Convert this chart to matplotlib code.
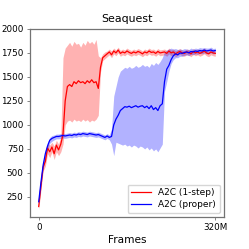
import numpy as np
import matplotlib
matplotlib.use("Agg")
import matplotlib.pyplot as plt

# frames in millions, one point every 4M
frames = np.arange(0, 321, 4)

red_mean = [150, 360, 560, 620, 760, 720, 770, 700, 790, 740, 800, 900, 1250, 1400,
            1420, 1400, 1450, 1430, 1460, 1440, 1450, 1430, 1460, 1440, 1470, 1440,
            1450, 1380, 1600, 1700, 1720, 1740, 1760, 1730, 1770, 1750, 1780, 1745,
            1760, 1750, 1770, 1755, 1745, 1760, 1750, 1765, 1755, 1740, 1760, 1750,
            1770, 1755, 1760, 1745, 1765, 1750, 1755, 1760, 1745, 1770, 1750, 1760,
            1740, 1755, 1765, 1750, 1745, 1760, 1755, 1740, 1765, 1750, 1760, 1745,
            1755, 1770, 1750, 1740, 1760, 1750, 1745]
red_low = [120, 320, 520, 570, 700, 660, 720, 640, 720, 680, 720, 800, 1000, 1040,
           1050, 1030, 1060, 1040, 1050, 1035, 1060, 1040, 1055, 1030, 1050, 1040,
           1060, 1100, 1550, 1670, 1690, 1710, 1730, 1700, 1740, 1720, 1750, 1715,
           1730, 1720, 1740, 1725, 1715, 1730, 1720, 1735, 1725, 1710, 1730, 1720,
           1740, 1725, 1730, 1715, 1735, 1720, 1725, 1730, 1715, 1740, 1720, 1730,
           1710, 1725, 1735, 1720, 1715, 1730, 1725, 1710, 1735, 1720, 1730, 1715,
           1725, 1740, 1720, 1710, 1730, 1720, 1715]
red_high = [180, 400, 600, 680, 800, 790, 820, 780, 840, 800, 880, 1700, 1800, 1830,
            1860, 1820, 1870, 1840, 1850, 1810, 1860, 1830, 1880, 1850, 1870, 1840,
            1890, 1720, 1700, 1740, 1760, 1770, 1790, 1770, 1800, 1780, 1810, 1775,
            1790, 1780, 1800, 1785, 1775, 1790, 1780, 1795, 1785, 1770, 1790, 1780,
            1800, 1785, 1790, 1775, 1795, 1780, 1785, 1790, 1775, 1800, 1780, 1790,
            1770, 1785, 1795, 1780, 1775, 1790, 1785, 1770, 1795, 1780, 1790, 1775,
            1785, 1800, 1780, 1770, 1790, 1780, 1775]

blue_mean = [200, 400, 580, 700, 780, 840, 860, 870, 880, 880, 885, 890, 885, 890,
             895, 890, 900, 895, 905, 900, 910, 905, 900, 910, 905, 900, 895, 900,
             890, 880, 870, 885, 870, 880, 1000, 1060, 1100, 1150, 1170, 1190, 1185,
             1195, 1180, 1190, 1200, 1185, 1195, 1200, 1180, 1195, 1170, 1200, 1160,
             1180, 1150, 1200, 1220, 1450, 1580, 1620, 1680, 1720, 1740, 1730, 1750,
             1745, 1755, 1760, 1750, 1765, 1760, 1770, 1765, 1775, 1770, 1780, 1770,
             1775, 1780, 1770, 1775]
blue_low = [160, 360, 540, 660, 740, 810, 830, 845, 855, 855, 860, 865, 860, 865,
            870, 865, 875, 870, 880, 875, 885, 880, 875, 885, 880, 875, 870, 875,
            865, 855, 845, 860, 845, 800, 680, 820, 810, 800, 790, 800, 780, 790,
            770, 790, 780, 760, 780, 770, 750, 770, 740, 760, 730, 750, 720, 760,
            800, 1350, 1450, 1560, 1640, 1680, 1700, 1700, 1715, 1715, 1725, 1730,
            1720, 1735, 1730, 1740, 1735, 1745, 1740, 1750, 1740, 1745, 1750, 1740,
            1745]
blue_high = [240, 440, 620, 740, 820, 870, 890, 895, 905, 905, 910, 915, 910, 915,
             920, 915, 925, 920, 930, 925, 935, 930, 925, 935, 930, 925, 920, 925,
             915, 905, 895, 910, 895, 960, 1300, 1400, 1500, 1560, 1580, 1600, 1590,
             1610, 1590, 1600, 1620, 1600, 1610, 1630, 1610, 1620, 1600, 1640, 1620,
             1650, 1630, 1660, 1700, 1760, 1780, 1790, 1800, 1790, 1795, 1785, 1790,
             1785, 1795, 1790, 1785, 1800, 1790, 1800, 1795, 1805, 1800, 1805, 1800,
             1800, 1810, 1795, 1800]

fig = plt.figure(figsize=(2.49, 2.49), dpi=100)
ax = fig.add_axes([0.12, 0.128, 0.78, 0.756])

ax.fill_between(frames, red_low, red_high, color="red", alpha=0.3, linewidth=0)
ax.fill_between(frames, blue_low, blue_high, color="blue", alpha=0.3, linewidth=0)
ax.plot(frames, red_mean, color="red", linewidth=0.9, label="A2C (1-step)")
ax.plot(frames, blue_mean, color="blue", linewidth=0.9, label="A2C (proper)")

ax.set_xlim(-16, 336)
ax.set_ylim(40, 2000)
ax.set_xticks([0, 320])
ax.set_xticklabels(["0", "320M"])
ax.set_yticks([250, 500, 750, 1000, 1250, 1500, 1750, 2000])
ax.tick_params(labelsize=6.3, length=2.5, width=0.6, color="0.45", pad=2)
for s in ax.spines.values():
    s.set_color("0.45")
    s.set_linewidth(0.9)

ax.set_title("Seaquest", fontsize=7.9, pad=5)
ax.set_xlabel("Frames", fontsize=7.6, labelpad=2)
ax.legend(loc="lower right", fontsize=6.5, handlelength=2.2, borderpad=0.4,
          labelspacing=0.3)

fig.savefig("out.png", dpi=100)
